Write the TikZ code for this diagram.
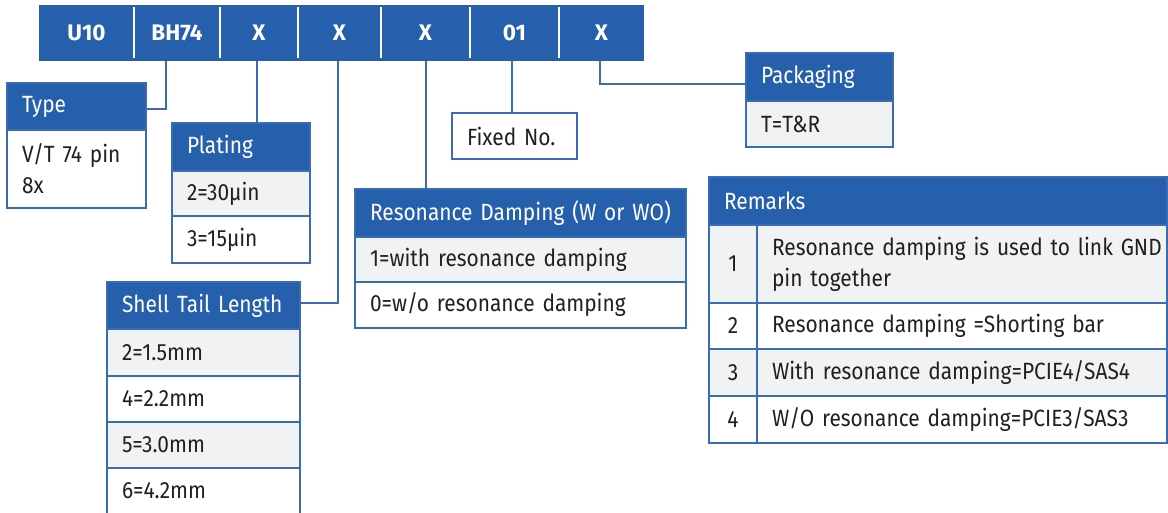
\documentclass[tikz,border=0pt]{standalone}
\usepackage{fontspec}
\setmainfont{Fira Sans}[FakeStretch=0.89, BoldFeatures={FakeStretch=1.0}]
\usetikzlibrary{positioning}
\definecolor{pnblue}{HTML}{2660AC}
\definecolor{pnline}{HTML}{3A6CB5}
\definecolor{pngray}{HTML}{F1F2F4}
\definecolor{pntext}{HTML}{231F20}
\begin{document}
\begin{tikzpicture}[x=1pt,y=-1pt,
  every node/.style={font=\fontsize{23.5}{31}\selectfont, outer sep=0pt},
  seg/.style={fill=pnblue, text=white, inner sep=0pt, anchor=north west,
    minimum height=56pt, font=\fontsize{22.5}{24}\selectfont\bfseries},
  head/.style={fill=pnblue, draw=pnline, line width=1.5pt, text=white,
    anchor=north west, align=left, inner xsep=15pt, inner ysep=0pt},
  cellg/.style={fill=pngray, draw=pnline, line width=1.5pt, text=pntext,
    anchor=north west, align=left, inner xsep=15pt, inner ysep=0pt},
  cellw/.style={cellg, fill=white},
  divider/.style={white, line width=2pt},
  link/.style={pnline, line width=2pt}]
\useasboundingbox (0,0) rectangle (1168,513);
% ================= part number bar =================
\node[seg, minimum width=95pt] (u10)  at (39,5)  {U10};
\node[seg, minimum width=86pt] (bh74) at (134,5) {BH74};
\node[seg, minimum width=78pt] (xa)   at (220,5) {X};
\node[seg, minimum width=83pt] (xb)   at (298,5) {X};
\node[seg, minimum width=89pt] (xc)   at (381,5) {X};
\node[seg, minimum width=89pt] (n01)  at (470,5) {01};
\node[seg, minimum width=85pt] (xd)   at (559,5) {X};
\foreach \s in {u10,bh74,xa,xb,xc,n01}
  \draw[divider] ([yshift=-2pt]\s.north east) -- ([yshift=3pt]\s.south east);
% ================= type =================
\node[head, minimum height=47pt, text width=109pt] (typeh) at (7,83) {Type};
\node[cellw, minimum height=78pt, text width=109pt] (type1) at (7,130)
  {V/T 74 pin\\8x};
% ================= plating =================
\node[head, minimum height=48pt, text width=108pt] (plath) at (172,123) {Plating};
\node[cellg, minimum height=45pt, text width=108pt] (plat1) at (172,171) {2=30µin};
\node[cellw, minimum height=47pt, text width=108pt] (plat2) at (172,216) {3=15µin};
% ================= shell tail length =================
\node[head, minimum height=47pt, text width=163pt] (shellh) at (107,282)
  {Shell Tail Length};
\node[cellg, minimum height=47pt, text width=163pt] (shell1) at (107,329) {2=1.5mm};
\node[cellw, minimum height=46pt, text width=163pt] (shell2) at (107,376) {4=2.2mm};
\node[cellg, minimum height=46pt, text width=163pt] (shell3) at (107,422) {5=3.0mm};
\node[cellw, minimum height=46pt, text width=163pt] (shell4) at (107,468) {6=4.2mm};
% ================= resonance damping =================
\node[head, minimum height=48pt, text width=301pt] (resh) at (355,189)
  {Resonance Damping (W or WO)};
\node[cellg, minimum height=45pt, text width=301pt] (res1) at (355,237)
  {1=with resonance damping};
\node[cellw, minimum height=46pt, text width=301pt] (res2) at (355,282)
  {0=w/o resonance damping};
% ================= fixed no. =================
\node[cellw, minimum height=46pt, text width=95pt] (fixed) at (452,113) {Fixed No.};
% ================= packaging =================
\node[head, minimum height=48pt, text width=117pt] (packh) at (746,53) {Packaging};
\node[cellg, minimum height=46pt, text width=117pt] (pack1) at (746,101) {T=T\&R};
% ================= remarks =================
\node[head, minimum height=48pt, text width=428pt] (remh) at (709,177) {Remarks};
\node[cellg, minimum height=78pt, text width=18pt, align=center] (remn1) at (709,225) {1};
\node[cellg, minimum height=78pt, text width=380pt] (remt1) at (757,225)
  {\mbox{Resonance damping is used to link GND}\\pin together};
\node[cellw, minimum height=46pt, text width=18pt, align=center] (remn2) at (709,303) {2};
\node[cellw, minimum height=46pt, text width=380pt] (remt2) at (757,303)
  {Resonance damping =Shorting bar};
\node[cellg, minimum height=47pt, text width=18pt, align=center] (remn3) at (709,349) {3};
\node[cellg, minimum height=47pt, text width=380pt] (remt3) at (757,349)
  {With resonance damping=PCIE4/SAS4};
\node[cellw, minimum height=47pt, text width=18pt, align=center] (remn4) at (709,396) {4};
\node[cellw, minimum height=47pt, text width=380pt] (remt4) at (757,396)
  {W/O resonance damping=PCIE3/SAS3};
% ================= connectors =================
\draw[link] ([xshift=-11pt]bh74.south) |- ([yshift=-3pt]typeh.east);
\draw[link] ([xshift=-2pt]xa.south) -- ([xshift=-2pt]xa.south |- plath.north);
\draw[link] ([xshift=-2pt]xb.south) |- ([yshift=2pt]shellh.east);
\draw[link] (xc.south) -- (xc.south |- resh.north);
\draw[link] ([xshift=-3pt]n01.south) -- ([xshift=-3pt]n01.south |- fixed.north);
\draw[link] ([xshift=-2pt]xd.south) |- ([yshift=-7pt]packh.west);
\end{tikzpicture}
\end{document}
